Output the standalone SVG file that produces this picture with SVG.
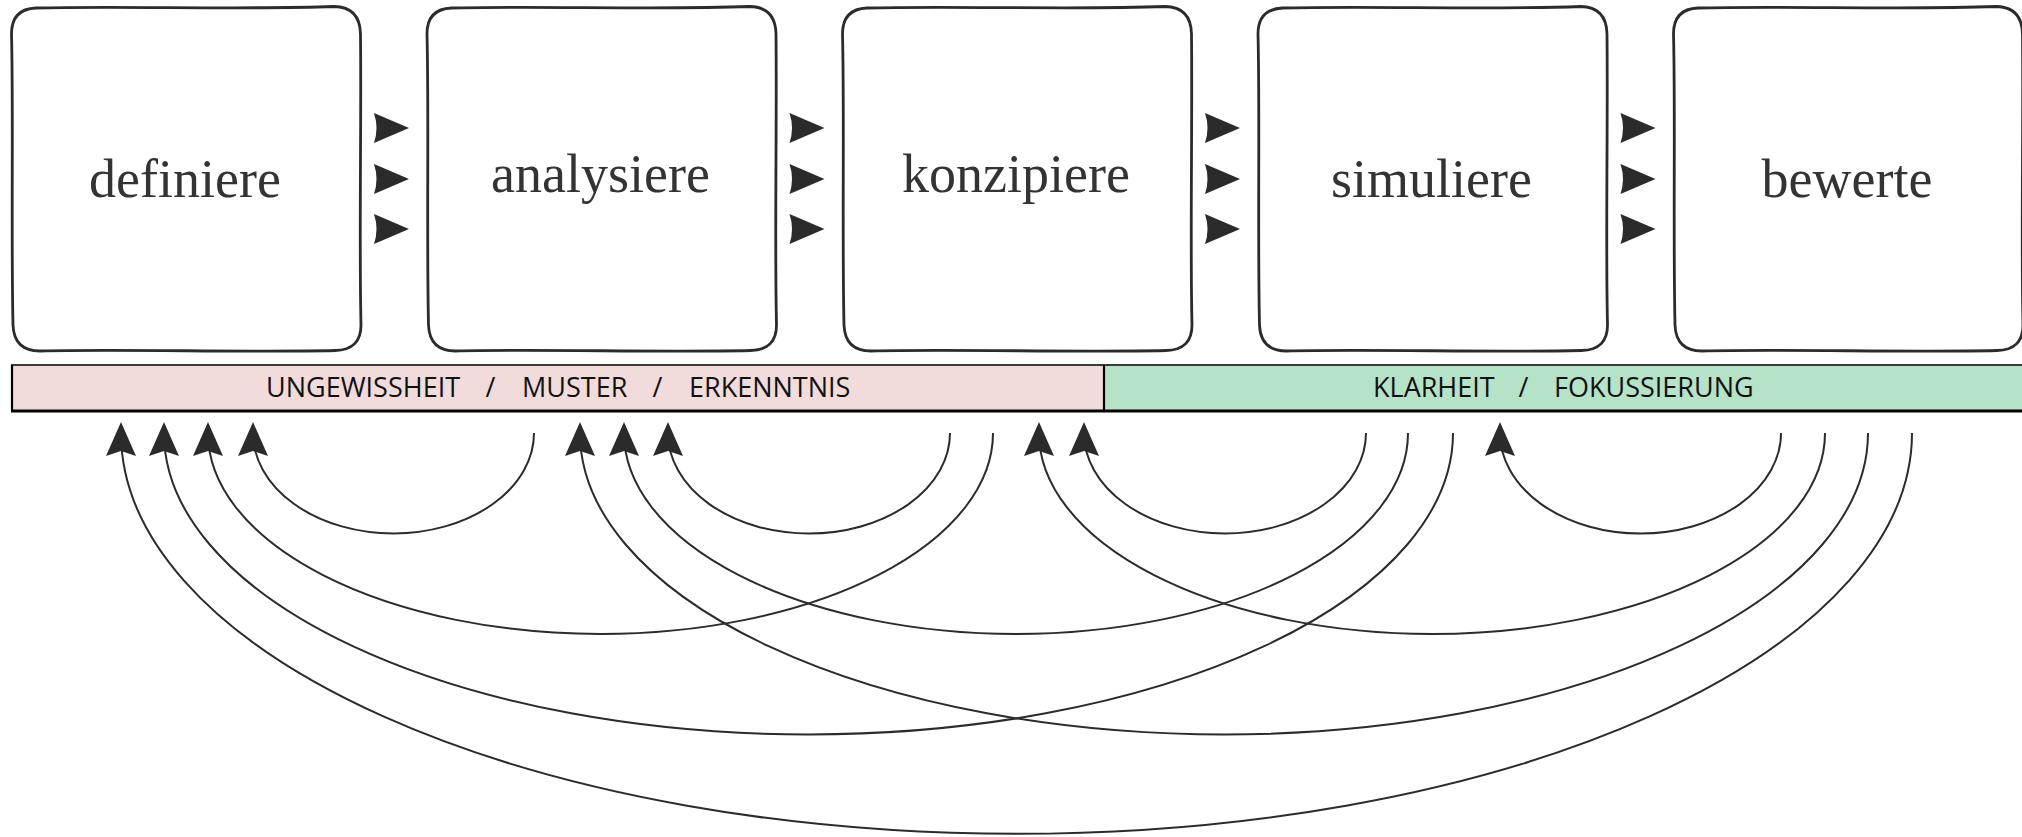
<svg xmlns="http://www.w3.org/2000/svg" width="2022" height="837" viewBox="0 0 2022 837">
  <style>
    .box { fill: #ffffff; stroke: #2b2b2b; stroke-width: 2.8; stroke-linejoin: round; }
    .label { font-family: "Liberation Serif", "DejaVu Serif", serif; font-size: 54px; fill: #333333; text-anchor: middle; }
    .step { fill: #2b2b2b; }
    .phase { font-family: "Open Sans", "Liberation Sans", sans-serif; font-size: 27px; fill: #111111; }
    .slash { text-anchor: middle; }
    .arc { fill: none; stroke: #2b2b2b; stroke-width: 2; marker-end: url(#head); }
  </style>
  <defs>
    <!-- hand-drawn rounded square, 351 x 348 -->
    <path id="box-shape" d="M 26 4 C 110 1.5, 230 6, 324 2.5 Q 350 3, 350.5 30 C 351.5 120, 349 240, 351 320 Q 351.5 346, 325 346.5 C 240 348.5, 110 345, 30 347 Q 4 347, 3 321 C 1 230, 3.5 110, 1.5 30 Q 1.5 5, 26 4 Z"/>
    <!-- small forward triangle between steps -->
    <path id="step-tri" d="M 0 -15 L 35 0 L 0 15 Q 5 0, 0 -15 Z"/>
    <marker id="head" markerUnits="userSpaceOnUse" markerWidth="40" markerHeight="40" orient="auto" refX="0" refY="0" overflow="visible">
      <path d="M 11 0 L -23 -15 L -18 0 L -23 15 Z" fill="#2b2b2b"/>
    </marker>
  </defs>

  <!-- process steps -->
  <g id="node-definiere">
    <use href="#box-shape" class="box" transform="translate(10,4)"/>
    <text class="label" x="185" y="197">definiere</text>
  </g>
  <g id="node-analysiere">
    <use href="#box-shape" class="box" transform="translate(425.5,4)"/>
    <text class="label" x="600.5" y="192">analysiere</text>
  </g>
  <g id="node-konzipiere">
    <use href="#box-shape" class="box" transform="translate(841,4)"/>
    <text class="label" x="1016" y="192">konzipiere</text>
  </g>
  <g id="node-simuliere">
    <use href="#box-shape" class="box" transform="translate(1256.5,4)"/>
    <text class="label" x="1431.5" y="197">simuliere</text>
  </g>
  <g id="node-bewerte">
    <use href="#box-shape" class="box" transform="translate(1672,4)"/>
    <text class="label" x="1847" y="197">bewerte</text>
  </g>

  <!-- forward markers between steps -->
  <g id="step-arrows" class="step">
    <use href="#step-tri" transform="translate(374,128)"/>
    <use href="#step-tri" transform="translate(374,179)"/>
    <use href="#step-tri" transform="translate(374,229)"/>
    <use href="#step-tri" transform="translate(789.5,128)"/>
    <use href="#step-tri" transform="translate(789.5,179)"/>
    <use href="#step-tri" transform="translate(789.5,229)"/>
    <use href="#step-tri" transform="translate(1205,128)"/>
    <use href="#step-tri" transform="translate(1205,179)"/>
    <use href="#step-tri" transform="translate(1205,229)"/>
    <use href="#step-tri" transform="translate(1620.5,128)"/>
    <use href="#step-tri" transform="translate(1620.5,179)"/>
    <use href="#step-tri" transform="translate(1620.5,229)"/>
  </g>

  <!-- phase bar -->
  <g id="phase-uncertainty">
    <rect x="12" y="365" width="1092" height="46" fill="#f2dbdb"/>
    <text class="phase" y="397">
      <tspan x="266">UNGEWISSHEIT</tspan>
      <tspan class="slash" x="494">/</tspan>
      <tspan x="522">MUSTER</tspan>
      <tspan class="slash" x="661">/</tspan>
      <tspan x="689">ERKENNTNIS</tspan>
    </text>
  </g>
  <g id="phase-clarity">
    <rect x="1104" y="365" width="930" height="46" fill="#b6e2c8"/>
    <text class="phase" y="397">
      <tspan x="1373">KLARHEIT</tspan>
      <tspan class="slash" x="1527">/</tspan>
      <tspan x="1554">FOKUSSIERUNG</tspan>
    </text>
  </g>
  <g id="phase-bar-frame" fill="none">
    <line x1="11" y1="365" x2="2022" y2="365" stroke="#3a3a3a" stroke-width="1.8"/>
    <line x1="11" y1="411" x2="2022" y2="411" stroke="#000000" stroke-width="2.8"/>
    <line x1="12" y1="365" x2="12" y2="411" stroke="#000000" stroke-width="2.2"/>
    <line x1="1104" y1="365" x2="1104" y2="411" stroke="#000000" stroke-width="2.2"/>
  </g>

  <!-- feedback loops back to earlier steps -->
  <g id="connectors">
    <!-- from analysiere -->
    <path class="arc" d="M 534 433 A 140.5 100.5 0 0 1 253 433"/>
    <!-- from konzipiere -->
    <path class="arc" d="M 950 433 A 141 100.5 0 0 1 668 433"/>
    <path class="arc" d="M 993 433 A 392.5 201 0 0 1 208 433"/>
    <!-- from simuliere -->
    <path class="arc" d="M 1366 433 A 141 100.5 0 0 1 1084 433"/>
    <path class="arc" d="M 1408 433 A 392 201 0 0 1 624 433"/>
    <path class="arc" d="M 1453 433 A 644.5 301.5 0 0 1 164 433"/>
    <!-- from bewerte -->
    <path class="arc" d="M 1781 433 A 140.5 100.5 0 0 1 1500 433"/>
    <path class="arc" d="M 1825 433 A 393 201 0 0 1 1039 433"/>
    <path class="arc" d="M 1868 433 A 644 301.5 0 0 1 580 433"/>
    <path class="arc" d="M 1912 433 A 895.5 401 0 0 1 121 433"/>
  </g>
</svg>
